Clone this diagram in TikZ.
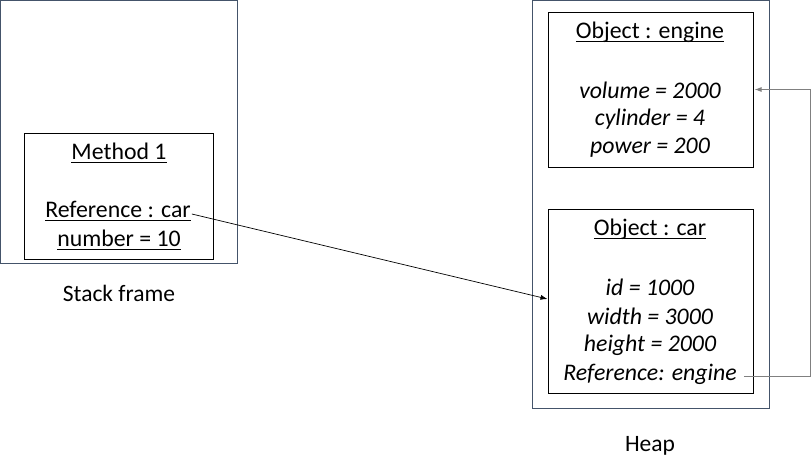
\documentclass[tikz,border=0pt]{standalone}
\usepackage{fontspec}
\setmainfont{Carlito}
\usetikzlibrary{arrows.meta}
\definecolor{frame}{HTML}{44546A}
\definecolor{link}{HTML}{808080}
\newcommand\myul[1]{\setbox0\hbox{#1}\rlap{\rule[-4pt]{\wd0}{1.6pt}}\box0}
\begin{document}
\begin{tikzpicture}[x=1pt,y=-1pt,
  txt/.style={inner sep=0pt,font=\fontsize{23.8}{28}\selectfont},
  lbl/.style={inner sep=0pt,font=\fontsize{23.5}{28}\selectfont}]
\useasboundingbox (0,0) rectangle (812,475);
% frames
\draw[frame,line width=1pt] (0.5,0.5) rectangle (237,263);
\draw[frame,line width=1pt] (532,0.5) rectangle (769,408);
\node[draw=black,line width=1pt,minimum width=189pt,minimum height=126pt,inner sep=0pt] (method) at (118.5,196) {};
\node[draw=black,line width=1pt,minimum width=205pt,minimum height=155pt,inner sep=0pt] (engbox) at (650.5,89.5) {};
\node[draw=black,line width=1pt,minimum width=205pt,minimum height=184pt,inner sep=0pt] (carbox) at (650.5,301) {};
% stack texts
\node[txt] (m1) at (119,153) {\myul{Method 1}};
\node[txt] (refcar) at (118,211) {\myul{Reference : car}};
\node[txt] (num) at (119,240) {\myul{number = 10}};
\node[lbl] (stack) at (119,293) {Stack frame};
% engine
\node[txt] (eng) at (650,32) {\myul{Object : engine}};
\node[txt] (vol) at (650,90) {\itshape volume = 2000};
\node[txt] (cyl) at (650,119) {\itshape cylinder = 4};
\node[txt] (pow) at (650,148) {\itshape power = 200};
% car
\node[txt] (car) at (650,229) {\myul{Object : car}};
\node[txt] (id) at (650,287) {\itshape id = 1000};
\node[txt] (wid) at (650,316) {\itshape width = 3000};
\node[txt] (hei) at (650,345) {\itshape height = 2000};
\node[txt] (refeng) at (650,374) {\itshape Reference: engine};
\node[lbl] (heap) at (650,446) {Heap};
% connectors
\draw[-{Latex[length=7pt,width=5pt]},line width=0.7pt] ([xshift=1pt,yshift=-3pt]refcar.east) -- ([yshift=2pt]carbox.west);
\coordinate (turn) at (810,376);
\draw[link,-{Latex[length=7pt,width=5pt]},line width=0.9pt] ([xshift=7pt]refeng.east |- turn) -- (turn) |- ([xshift=1pt]engbox.east);
\end{tikzpicture}
\end{document}
